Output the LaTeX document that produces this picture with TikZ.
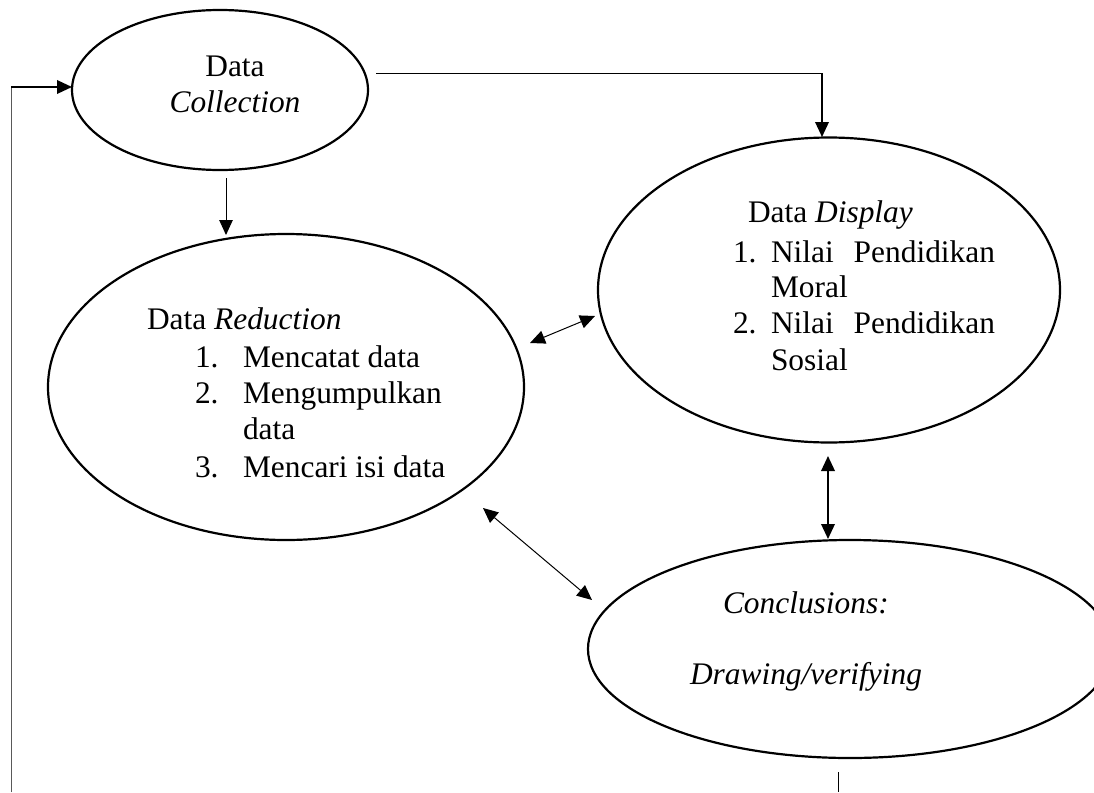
\documentclass[tikz,border=0pt]{standalone}
\usepackage{fontspec}
\setmainfont{Liberation Serif}
\usetikzlibrary{shapes.geometric,arrows.meta}
\tikzset{
  txt/.style={font=\fontsize{31.4}{37}\selectfont, inner sep=0pt, outer sep=0pt},
  ell/.style={draw, ellipse, line width=2.2pt, inner sep=0pt, outer sep=0pt},
  conn/.style={line width=1pt},
  tip/.style={-{Triangle[length=15pt,width=13.5pt]}},
  dtip/.style={{Triangle[length=15pt,width=13.5pt]}-{Triangle[length=15pt,width=13.5pt]}},
}
\begin{document}
\begin{tikzpicture}[x=1pt,y=-1pt]
\useasboundingbox (0,0) rectangle (1094,792);
% ellipses
\node[ell, minimum width=296pt, minimum height=160pt] (coll) at (220,90) {};
\node[ell, minimum width=476pt, minimum height=306pt] (red) at (286,387) {};
\node[ell, minimum width=462pt, minimum height=305pt] (disp) at (829,290) {};
\node[ell, minimum width=524pt, minimum height=218pt] (concl) at (850,649) {};
% texts: collection
\node[txt, anchor=base] (t1) at (235,77) {Data};
\node[txt, anchor=base] (t2) at (235,112) {\textit{Collection}};
% reduction
\node[txt, anchor=base west] (r0) at (147,329) {Data \textit{Reduction}};
\node[txt, anchor=base west] (r1n) at (195,367) {1.};
\node[txt, anchor=base west] (r1) at (243,367) {Mencatat data};
\node[txt, anchor=base west] (r2n) at (195,403) {2.};
\node[txt, anchor=base west] (r2) at (243,403) {Mengumpulkan};
\node[txt, anchor=base west] (r2b) at (243,439) {data};
\node[txt, anchor=base west] (r3n) at (195,477) {3.};
\node[txt, anchor=base west] (r3) at (243,477) {Mencari isi data};
% display
\node[txt, anchor=base west] (d0) at (748,222) {Data \textit{Display}};
\node[txt, anchor=base west] (d1n) at (733,262) {1.};
\node[txt, anchor=base west] (d1a) at (771,262) {Nilai};
\node[txt, anchor=base east] (d1b) at (995,262) {Pendidikan};
\node[txt, anchor=base west] (d1c) at (771,297) {Moral};
\node[txt, anchor=base west] (d2n) at (733,333) {2.};
\node[txt, anchor=base west] (d2a) at (771,333) {Nilai};
\node[txt, anchor=base east] (d2b) at (995,333) {Pendidikan};
\node[txt, anchor=base west] (d2c) at (771,370) {Sosial};
% conclusions
\node[txt, anchor=base west] (c0) at (723,613) {\textit{Conclusions:}};
\node[txt, anchor=base west] (c1) at (690,684) {\textit{Drawing/verifying}};
% connector coordinates
\coordinate (fb0) at (11,792);
\coordinate (fb1) at (11,87);
\coordinate (fb2) at (72,87);
\coordinate (cd0) at (376,73);
\coordinate (cd1) at (822,73);
\coordinate (cd2) at (822,137);
\coordinate (cr0) at (226,178);
\coordinate (cr1) at (226,235);
\coordinate (rd0) at (530,343);
\coordinate (rd1) at (595,316);
\coordinate (dc0) at (828,456);
\coordinate (dc1) at (828,539);
\coordinate (rc0) at (483,508);
\coordinate (rc1) at (592,600);
\coordinate (b0) at (838,772);
\coordinate (b1) at (838,792);
% connectors
\draw[conn, gray!70!black] (fb0) -- (fb1);
\draw[conn, line width=2pt, tip] (fb1) -- (fb2);
\draw[conn] (cd0) -- (cd1);
\draw[conn, line width=2pt, tip] (cd1) -- (cd2);
\draw[conn, tip] (cr0) -- (cr1);
\draw[conn, dtip] (rd0) -- (rd1);
\draw[conn, line width=2pt, dtip] (dc0) -- (dc1);
\draw[conn, dtip] (rc0) -- (rc1);
\draw[conn] (b0) -- (b1);
\end{tikzpicture}
\end{document}
